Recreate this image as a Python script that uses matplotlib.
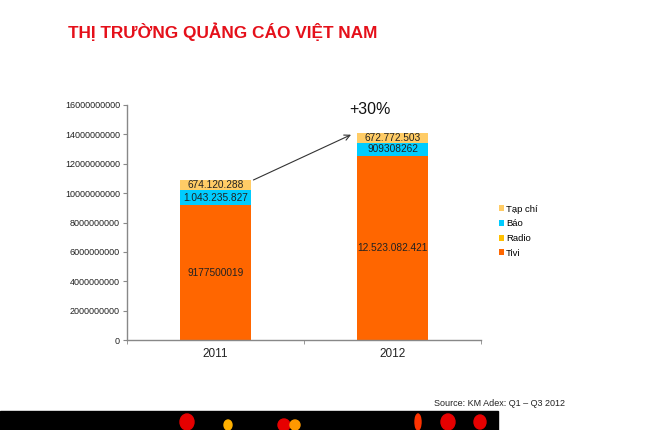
import matplotlib
matplotlib.use("Agg")
import matplotlib.pyplot as plt
from matplotlib.patches import Rectangle, Ellipse
import numpy as np

plt.rcParams['font.family'] = ['Liberation Sans', 'DejaVu Sans']

years = ["2011", "2012"]
series_names = ["Tivi", "Radio", "Báo", "Tạp chí"]
tivi = [9177500019, 12523082421]
radio = [0, 0]
bao = [1043235827, 909308262]
tapchi = [674120288, 672772503]
tivi_labels = ["9177500019", "12.523.082.421"]
bao_labels = ["1.043.235.827", "909308262"]
tapchi_labels = ["674.120.288", "672.772.503"]
colors = {"Tivi": "#FF6600", "Radio": "#FFC000", "Báo": "#00CCFF", "Tạp chí": "#FFCC66"}

W, H = 650, 430
fig = plt.figure(figsize=(6.5, 4.3), dpi=100)
ax = fig.add_axes([127/W, 1-340/H, (481-127)/W, (340-105)/H])

x = np.arange(len(years))
bw = 0.40
b1 = ax.bar(x, tivi, bw, color=colors["Tivi"], label="Tivi")
b2 = ax.bar(x, radio, bw, bottom=tivi, color=colors["Radio"], label="Radio")
bot2 = np.array(tivi) + np.array(radio)
b3 = ax.bar(x, bao, bw, bottom=bot2, color=colors["Báo"], label="Báo")
bot3 = bot2 + np.array(bao)
b4 = ax.bar(x, tapchi, bw, bottom=bot3, color=colors["Tạp chí"], label="Tạp chí")

lfs = 7.3
for i in range(len(years)):
    ax.text(x[i], tivi[i]/2, tivi_labels[i], ha='center', va='center', fontsize=lfs, color='#222222')
    ax.text(x[i], bot2[i] + bao[i]/2, bao_labels[i], ha='center', va='center', fontsize=lfs, color='#222222')
    ax.text(x[i], bot3[i] + tapchi[i]/2, tapchi_labels[i], ha='center', va='center', fontsize=lfs, color='#222222')

ax.set_xlim(-0.5, 1.5)
ax.set_ylim(0, 16000000000)
ax.set_yticks(np.arange(0, 16000000001, 2000000000))
ax.set_yticklabels([str(int(v)) for v in np.arange(0, 16000000001, 2000000000)], fontsize=6.5, color='#222222')
ax.set_xticks(x)
ax.set_xticklabels(years, fontsize=8.5, color='#222222')
ax.set_xticks([-0.5, 0.5, 1.5], minor=True)
ax.tick_params(axis='x', which='major', length=0, pad=6)
ax.tick_params(axis='x', which='minor', length=3, color='#888888', direction='out')
ax.tick_params(axis='y', length=3, color='#888888', direction='out', pad=2)
for s in ['top', 'right']:
    ax.spines[s].set_visible(False)
for s in ['left', 'bottom']:
    ax.spines[s].set_color('#888888')
    ax.spines[s].set_linewidth(1)

# arrow
tot = bot3 + np.array(tapchi)
ax.annotate("", xy=(0.78, tot[1] - 0.05e9), xytext=(x[0] + bw/2, tot[0] - 0.08e9),
            arrowprops=dict(arrowstyle='->', color='#333333', lw=0.8))
fig.text(370/W, 1-110/H, "+30%", fontsize=11.5, ha='center', va='center', color='#111111')

# legend
handles = [b4, b3, b2, b1]
labels = ["Tạp chí", "Báo", "Radio", "Tivi"]
fig.legend(handles, labels, loc='upper left', bbox_to_anchor=(490/W, 1-196/H), frameon=False,
           fontsize=6.8, handlelength=0.6, handleheight=0.6, handletextpad=0.2, labelspacing=0.6)

fig.text(68/W, 1-32/H, "THỊ TRƯỜNG QUẢNG CÁO VIỆT NAM", fontsize=12.4, fontweight='bold',
         color='#E5101A', ha='left', va='center')
fig.text(565/W, 1-404/H, "Source: KM Adex: Q1 – Q3 2012", fontsize=6.5, ha='right', va='center', color='#222222')

# bottom black band with decoration
fig.add_artist(Rectangle((0, 0), 498/W, 19/H, transform=fig.transFigure, color='black'))
for cx, cy, w, h, cc in [(187, 8, 14, 16, '#E60000'), (228, 5, 8, 10, '#FFB000'),
                         (284, 5, 12, 12, '#E60000'), (295, 5, 10, 10, '#FF9900'),
                         (418, 8, 6, 16, '#FF3300'), (448, 8, 14, 16, '#E60000'),
                         (480, 8, 12, 14, '#E60000')]:
    fig.add_artist(Ellipse((cx/W, cy/H), w/W, h/H, transform=fig.transFigure, color=cc))

fig.savefig("out.png", dpi=100)
